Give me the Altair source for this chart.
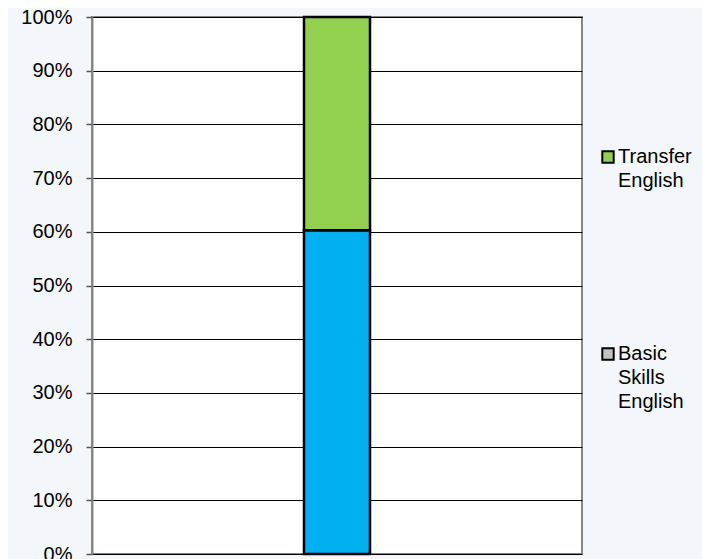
import altair as alt
import pandas as pd

categories = ["Basic Skills English", "Transfer English"]
shares = [0.603, 0.397]
stack_order = [0, 1]
group = ["", ""]
bar_colors = ["#00b0f0", "#92d050"]
legend_colors = ["#c0c0c0", "#92d050"]
y_ticks = [i / 10 for i in range(11)]

df = pd.DataFrame({"course": categories, "share": shares, "ord": stack_order, "g": group})

legend_domain = [categories[1], categories[0]]
FONT = "Liberation Sans"

base = alt.Chart(df)

bars = base.mark_bar(size=66, stroke="black", strokeWidth=2.5).encode(
    x=alt.X("g:N", axis=None, scale=alt.Scale(paddingInner=0, paddingOuter=0)),
    y=alt.Y(
        "share:Q",
        stack="zero",
        scale=alt.Scale(domain=[0, 1], nice=False),
        axis=alt.Axis(
            values=y_ticks,
            format=".0%",
            title=None,
            labelFont=FONT,
            labelFontSize=20,
            labelColor="black",
            labelPadding=14,
            tickSize=6,
            tickColor="#555555",
            tickWidth=1.5,
            domainColor="#868686",
            domainWidth=2,
            gridColor="black",
            gridWidth=1,
        ),
    ),
    color=alt.Color(
        "course:N",
        scale=alt.Scale(domain=legend_domain, range=[bar_colors[1], bar_colors[0]]),
        legend=None,
    ),
    order=alt.Order("ord:Q", sort="ascending"),
)

legend_layer = base.mark_square(opacity=0).encode(
    x=alt.X("g:N"),
    y=alt.Y("share:Q", stack=None),
    fill=alt.Fill(
        "course:N",
        scale=alt.Scale(domain=legend_domain, range=[legend_colors[1], legend_colors[0]]),
        legend=alt.Legend(
            title=None,
            orient="none",
            legendX=506,
            legendY=130,
            symbolType="square",
            symbolSize=130,
            symbolOpacity=1,
            symbolStrokeColor="black",
            symbolStrokeWidth=2,
            labelFont=FONT,
            labelFontSize=20,
            labelColor="black",
            labelOffset=0,
            labelExpr="split(datum.label, ' ')",
            labelBaseline="middle",
            labelLimit=200,
            rowPadding=153,
        ),
    ),
)

chart = (
    alt.layer(bars, legend_layer)
    .resolve_scale(color="independent", fill="independent")
    .properties(
        width=490,
        height=537,
        background="#f3f6fb",
        padding={"left": 84, "top": 9, "right": 120, "bottom": 5},
        autosize=alt.AutoSizeParams(type="none"),
    )
    .configure(style={"guide-label": {"lineHeight": 24}})
    .configure_view(fill="white", stroke="#868686", strokeWidth=2)
)

chart.save("out.html", embed_options={"renderer": "svg", "actions": False})
